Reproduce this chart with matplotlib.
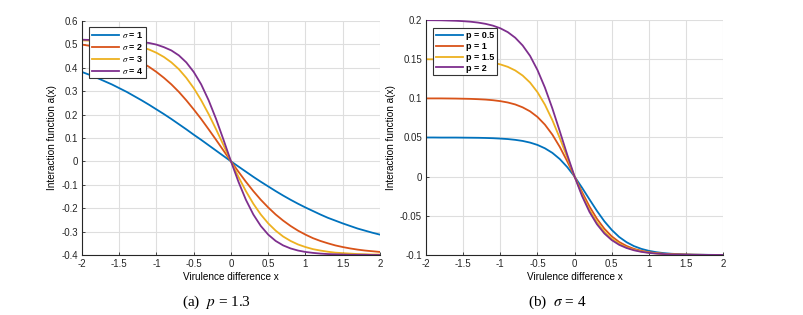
import numpy as np
import matplotlib.pyplot as plt

plt.rcParams['font.family'] = ['Liberation Sans', 'DejaVu Sans']
plt.rcParams['mathtext.fontset'] = 'stix'

# sample positions on the virulence difference axis
x = np.linspace(-2, 2, 41)

# (a) p = 1.3, varying sigma
a_sigma1 = [0.382, 0.370, 0.357, 0.343, 0.329, 0.313, 0.297, 0.279, 0.261, 0.242, 0.222,
            0.202, 0.181, 0.159, 0.137, 0.114, 0.092, 0.069, 0.046, 0.023, 0.0,
            -0.022, -0.044, -0.066, -0.087, -0.107, -0.127, -0.146, -0.164, -0.181, -0.197,
            -0.212, -0.227, -0.241, -0.253, -0.265, -0.276, -0.287, -0.296, -0.305, -0.313]
a_sigma2 = [0.499, 0.494, 0.488, 0.482, 0.474, 0.464, 0.453, 0.439, 0.423, 0.404, 0.382,
            0.357, 0.329, 0.297, 0.261, 0.222, 0.181, 0.137, 0.092, 0.046, 0.0,
            -0.044, -0.087, -0.127, -0.164, -0.197, -0.227, -0.253, -0.276, -0.296, -0.313,
            -0.328, -0.340, -0.350, -0.359, -0.366, -0.372, -0.377, -0.381, -0.384, -0.387]
a_sigma3 = [0.517, 0.516, 0.515, 0.513, 0.510, 0.507, 0.502, 0.496, 0.488, 0.478, 0.464,
            0.446, 0.423, 0.394, 0.357, 0.313, 0.261, 0.202, 0.137, 0.069, 0.0,
            -0.066, -0.127, -0.181, -0.227, -0.265, -0.296, -0.321, -0.340, -0.355, -0.366,
            -0.375, -0.381, -0.386, -0.390, -0.392, -0.394, -0.396, -0.397, -0.398, -0.398]
a_sigma4 = [0.520, 0.519, 0.519, 0.519, 0.518, 0.517, 0.516, 0.513, 0.510, 0.506, 0.499,
            0.488, 0.474, 0.453, 0.423, 0.382, 0.329, 0.261, 0.181, 0.092, 0.0,
            -0.087, -0.164, -0.227, -0.276, -0.313, -0.340, -0.359, -0.372, -0.381, -0.387,
            -0.391, -0.394, -0.396, -0.397, -0.398, -0.399, -0.399, -0.399, -0.400, -0.400]
labels_a = [r'$\sigma$ = 1', r'$\sigma$ = 2', r'$\sigma$ = 3', r'$\sigma$ = 4']

# (b) sigma = 4, varying p
b_p05 = [0.0500, 0.0500, 0.0499, 0.0499, 0.0499, 0.0498, 0.0497, 0.0496, 0.0494, 0.0491, 0.0486,
         0.0480, 0.0470, 0.0456, 0.0435, 0.0405, 0.0362, 0.0304, 0.0225, 0.0123, 0.0,
         -0.0141, -0.0290, -0.0436, -0.0569, -0.0680, -0.0770, -0.0837, -0.0887, -0.0922, -0.0947,
         -0.0964, -0.0976, -0.0984, -0.0989, -0.0993, -0.0995, -0.0997, -0.0998, -0.0999, -0.0999]
b_p1 = [0.0999, 0.0999, 0.0999, 0.0998, 0.0997, 0.0995, 0.0993, 0.0989, 0.0984, 0.0976, 0.0964,
        0.0947, 0.0922, 0.0885, 0.0834, 0.0762, 0.0664, 0.0537, 0.0380, 0.0197, 0.0,
        -0.0197, -0.0380, -0.0537, -0.0664, -0.0762, -0.0834, -0.0885, -0.0922, -0.0947, -0.0964,
        -0.0976, -0.0984, -0.0989, -0.0993, -0.0995, -0.0997, -0.0998, -0.0999, -0.0999, -0.0999]
b_p15 = [0.1499, 0.1498, 0.1497, 0.1496, 0.1494, 0.1491, 0.1486, 0.1479, 0.1470, 0.1455, 0.1433,
         0.1402, 0.1356, 0.1291, 0.1201, 0.1078, 0.0919, 0.0722, 0.0493, 0.0247, 0.0,
         -0.0228, -0.0424, -0.0582, -0.0703, -0.0793, -0.0857, -0.0903, -0.0934, -0.0955, -0.0970,
         -0.0980, -0.0986, -0.0991, -0.0994, -0.0996, -0.0997, -0.0998, -0.0999, -0.0999, -0.0999]
b_p2 = [0.1998, 0.1997, 0.1996, 0.1993, 0.1990, 0.1985, 0.1978, 0.1967, 0.1951, 0.1928, 0.1894,
        0.1845, 0.1774, 0.1675, 0.1542, 0.1361, 0.1137, 0.0872, 0.0580, 0.0282, 0.0,
        -0.0247, -0.0450, -0.0607, -0.0725, -0.0810, -0.0870, -0.0911, -0.0940, -0.0960, -0.0973,
        -0.0982, -0.0988, -0.0992, -0.0994, -0.0996, -0.0998, -0.0998, -0.0999, -0.0999, -0.0999]
labels_b = ['p = 0.5', 'p = 1', 'p = 1.5', 'p = 2']

xticks = [-2, -1.5, -1, -0.5, 0, 0.5, 1, 1.5, 2]
xticklabels = ['-2', '-1.5', '-1', '-0.5', '0', '0.5', '1', '1.5', '2']
yticks_a = [-0.4, -0.3, -0.2, -0.1, 0, 0.1, 0.2, 0.3, 0.4, 0.5, 0.6]
yticklabels_a = ['-0.4', '-0.3', '-0.2', '-0.1', '0', '0.1', '0.2', '0.3', '0.4', '0.5', '0.6']
yticks_b = [-0.1, -0.05, 0, 0.05, 0.1, 0.15, 0.2]
yticklabels_b = ['-0.1', '-0.05', '0', '0.05', '0.1', '0.15', '0.2']

colors = ['#0072BD', '#D95319', '#EDB120', '#7E2F8E']


def style_axes(ax, yticks, yticklabels):
    ax.set_xlim(-2, 2)
    ax.set_ylim(yticks[0], yticks[-1])
    ax.set_xticks(xticks)
    ax.set_xticklabels(xticklabels)
    ax.set_yticks(yticks)
    ax.set_yticklabels(yticklabels)
    ax.grid(True, color='#dedede', linewidth=0.8)
    ax.set_axisbelow(True)
    for s in ['top', 'right']:
        ax.spines[s].set_visible(False)
    for s in ['left', 'bottom']:
        ax.spines[s].set_color('#262626')
        ax.spines[s].set_linewidth(0.8)
    ax.tick_params(direction='in', length=2.5, width=0.6, labelsize=7,
                   colors='#262626', pad=3)
    ax.set_xlabel('Virulence difference x', fontsize=7.2, labelpad=2)
    ax.set_ylabel('Interaction function a(x)', fontsize=7.2, labelpad=3)


fig = plt.figure(figsize=(8.04, 3.15), dpi=100)

ax1 = fig.add_axes([0.102, 0.1905, 0.3706, 0.7429])
for y, c, lab in zip([a_sigma1, a_sigma2, a_sigma3, a_sigma4], colors, labels_a):
    ax1.plot(x, y, color=c, linewidth=1.3, label=lab)
style_axes(ax1, yticks_a, yticklabels_a)
leg1 = ax1.legend(loc='upper left', bbox_to_anchor=(0.0235, 0.974), borderaxespad=0,
                  handlelength=3.0, handletextpad=0.3, labelspacing=0.22,
                  borderpad=0.3, fancybox=False, framealpha=1, edgecolor='#333333',
                  prop={'weight': 'bold', 'size': 6.5})
leg1.get_frame().set_linewidth(0.8)

ax2 = fig.add_axes([0.530, 0.1905, 0.3694, 0.7460])
for y, c, lab in zip([b_p05, b_p1, b_p15, b_p2], colors, labels_b):
    ax2.plot(x, y, color=c, linewidth=1.3, label=lab)
style_axes(ax2, yticks_b, yticklabels_b)
leg2 = ax2.legend(loc='upper left', bbox_to_anchor=(0.0236, 0.966), borderaxespad=0,
                  handlelength=3.0, handletextpad=0.3, labelspacing=0.22,
                  borderpad=0.3, fancybox=False, framealpha=1, edgecolor='#333333',
                  prop={'weight': 'bold', 'size': 6.5})
leg2.get_frame().set_linewidth(0.8)

fig.text(0.269, 0.040, r'(a)  $p$ = 1.3', ha='center', va='center', fontsize=11,
         family='Liberation Serif')
fig.text(0.693, 0.040, r'(b)  $\sigma$ = 4', ha='center', va='center', fontsize=11,
         family='Liberation Serif')

fig.savefig('out.png', dpi=100)
